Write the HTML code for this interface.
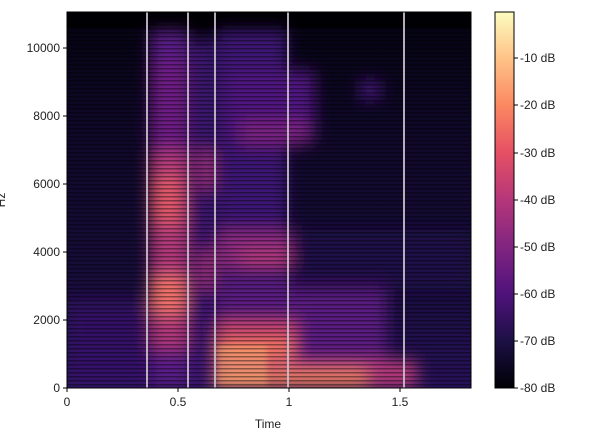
<!DOCTYPE html>
<html><head><style>
html,body{margin:0;padding:0;background:#fff;}
body{width:612px;height:442px;overflow:hidden;font-family:"Liberation Sans","DejaVu Sans",sans-serif;}
</style></head><body>
<svg width="612" height="442" viewBox="0 0 612 442" xmlns="http://www.w3.org/2000/svg" font-family="Liberation Sans, DejaVu Sans, sans-serif" font-size="12" fill="#222">
<defs>
<clipPath id="pc"><rect x="67" y="12" width="404" height="376"/></clipPath>
<filter id="b6" x="-20%" y="-20%" width="140%" height="140%"><feGaussianBlur stdDeviation="8"/></filter>
<filter id="b3"><feGaussianBlur stdDeviation="3"/></filter>
<pattern id="st" width="8" height="4" patternUnits="userSpaceOnUse">
<rect width="8" height="1.5" fill="#000" opacity="0.4"/>
</pattern>
<linearGradient id="cb" x1="0" y1="1" x2="0" y2="0">
<stop offset="0" stop-color="#000004"/>
<stop offset="0.125" stop-color="#1c1044"/>
<stop offset="0.25" stop-color="#4f127b"/>
<stop offset="0.375" stop-color="#812581"/>
<stop offset="0.5" stop-color="#b5367a"/>
<stop offset="0.625" stop-color="#e55064"/>
<stop offset="0.75" stop-color="#fb8761"/>
<stop offset="0.875" stop-color="#fec287"/>
<stop offset="1" stop-color="#fcfdbf"/>
</linearGradient>
<linearGradient id="bg" x1="0" y1="0" x2="0" y2="1">
<stop offset="0" stop-color="#040310"/>
<stop offset="0.3" stop-color="#0f0828"/>
<stop offset="0.7" stop-color="#170d3a"/>
<stop offset="1" stop-color="#27115a"/>
</linearGradient>
</defs>
<g clip-path="url(#pc)">
<rect x="67" y="12" width="404" height="376" fill="url(#bg)"/>
<rect x="67" y="12" width="404" height="16" fill="#000004"/>
<g filter="url(#b6)">
<rect x="67" y="300" width="80" height="88" fill="#3a1672" opacity="0.7"/>
<rect x="150" y="30" width="38" height="358" fill="#5a1a86"/>
<rect x="150" y="60" width="38" height="110" fill="#6e1f85"/>
<rect x="150" y="150" width="38" height="100" fill="#b23a7a"/>
<rect x="152" y="175" width="30" height="50" fill="#e0586a"/>
<rect x="150" y="250" width="38" height="100" fill="#b0387a"/>
<rect x="150" y="275" width="36" height="40" fill="#f0716a"/>
<rect x="190" y="40" width="25" height="348" fill="#3a1470"/>
<rect x="200" y="150" width="14" height="40" fill="#a0337d"/>
<rect x="200" y="250" width="14" height="40" fill="#a0337d"/>
<rect x="217" y="30" width="70" height="358" fill="#3e1575"/>
<rect x="225" y="70" width="90" height="70" fill="#50197f"/>
<rect x="240" y="120" width="70" height="25" fill="#7a2482"/>
<rect x="217" y="230" width="80" height="40" fill="#8a2a80"/>
<rect x="240" y="250" width="50" height="15" fill="#b43a7a"/>
<rect x="217" y="280" width="170" height="108" fill="#5a1b80"/>
<rect x="217" y="320" width="80" height="68" fill="#c8456f"/>
<rect x="217" y="340" width="75" height="45" fill="#f3775f"/>
<rect x="217" y="360" width="200" height="28" fill="#b43a7a"/>
<rect x="217" y="370" width="150" height="18" fill="#f08060"/>
<rect x="290" y="230" width="181" height="60" fill="#220c4c" opacity="0.8"/>
<rect x="360" y="80" width="20" height="20" fill="#4a1580"/>
</g>
<rect x="217" y="345" width="50" height="40" fill="#fcae72" opacity="0.5" filter="url(#b3)"/>
<rect x="67" y="12" width="404" height="376" fill="url(#st)"/>
<g stroke="#c8c0cc" stroke-width="2" opacity="0.9">
<line x1="147" y1="12" x2="147" y2="388"/>
<line x1="188" y1="12" x2="188" y2="388"/>
<line x1="215" y1="12" x2="215" y2="388"/>
<line x1="288" y1="12" x2="288" y2="388"/>
<line x1="404" y1="12" x2="404" y2="388"/>
</g>
</g>
<rect x="67" y="12" width="404" height="376" fill="none" stroke="#000" stroke-width="1"/>
<g stroke="#000" stroke-width="1">
<line x1="67" y1="388" x2="67" y2="392"/>
<line x1="178" y1="388" x2="178" y2="392"/>
<line x1="289" y1="388" x2="289" y2="392"/>
<line x1="400" y1="388" x2="400" y2="392"/>
<line x1="63" y1="388" x2="67" y2="388"/>
<line x1="63" y1="320" x2="67" y2="320"/>
<line x1="63" y1="252" x2="67" y2="252"/>
<line x1="63" y1="184" x2="67" y2="184"/>
<line x1="63" y1="116" x2="67" y2="116"/>
<line x1="63" y1="48" x2="67" y2="48"/>
</g>
<g text-anchor="middle">
<text x="67" y="406">0</text>
<text x="178" y="406">0.5</text>
<text x="289" y="406">1</text>
<text x="400" y="406">1.5</text>
<text x="268" y="428">Time</text>
</g>
<g text-anchor="end">
<text x="60" y="392">0</text>
<text x="60" y="324">2000</text>
<text x="60" y="256">4000</text>
<text x="60" y="188">6000</text>
<text x="60" y="120">8000</text>
<text x="60" y="52">10000</text>
</g>
<text transform="translate(5,200) rotate(-90)" text-anchor="middle">Hz</text>
<rect x="495" y="12" width="19" height="376" fill="url(#cb)" stroke="#000" stroke-width="1"/>
<g stroke="#000"><line x1="514" y1="58" x2="518" y2="58"/><line x1="514" y1="105" x2="518" y2="105"/><line x1="514" y1="153" x2="518" y2="153"/><line x1="514" y1="200" x2="518" y2="200"/><line x1="514" y1="247" x2="518" y2="247"/><line x1="514" y1="294" x2="518" y2="294"/><line x1="514" y1="341" x2="518" y2="341"/><line x1="514" y1="388" x2="518" y2="388"/></g>
<g>
<text x="520" y="62">-10 dB</text>
<text x="520" y="109">-20 dB</text>
<text x="520" y="157">-30 dB</text>
<text x="520" y="204">-40 dB</text>
<text x="520" y="251">-50 dB</text>
<text x="520" y="298">-60 dB</text>
<text x="520" y="345">-70 dB</text>
<text x="520" y="392">-80 dB</text>
</g>
</svg>
</body></html>
